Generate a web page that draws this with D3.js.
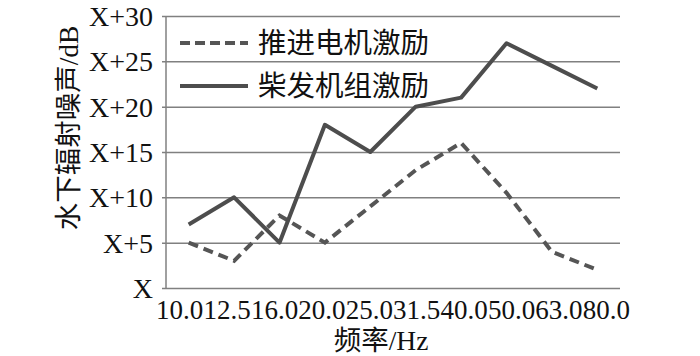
<!DOCTYPE html>
<html>
<head>
<meta charset="utf-8">
<script src="https://cdn.jsdelivr.net/npm/d3@7"></script>
<style>
  body { margin: 0; background: #fff; }
  text { font-family: "Liberation Serif", "Noto Sans CJK SC", serif; fill: #111; }
</style>
</head>
<body>
<div id="chart"></div>
<script>
var categories = ["10.0", "12.5", "16.0", "20.0", "25.0", "31.5", "40.0", "50.0", "63.0", "80.0"];
var motorValues = [5, 3, 8, 5, 9, 13, 16, 10.5, 4, 2];
var gensetValues = [7, 10, 5, 18, 15, 20, 21, 27, 24.5, 22];
var yTicks = [0, 5, 10, 15, 20, 25, 30];
var yTickLabels = ["X", "X+5", "X+10", "X+15", "X+20", "X+25", "X+30"];
var seriesNames = ["推进电机激励", "柴发机组激励"];

var margin = {top: 16, right: 80, bottom: 68, left: 166},
    width = 700 - margin.left - margin.right,
    height = 356 - margin.top - margin.bottom;

var svg = d3.select("#chart").append("svg")
    .attr("width", 700)
    .attr("height", 356)
  .append("g")
    .attr("transform", "translate(" + margin.left + "," + margin.top + ")");

var x = d3.scaleBand()
    .domain(categories)
    .range([0, width]);

// tick labels in the original are spread a bit wider than the points
var xLabel = d3.scaleBand()
    .domain(categories)
    .range([-10, width + 10]);

var y = d3.scaleLinear()
    .domain([0, 30])
    .range([height, 0]);

// gridlines + y tick labels
var yAxis = d3.axisLeft(y)
    .tickValues(yTicks)
    .tickSize(-width - 4)
    .tickFormat(function(d, i) { return yTickLabels[i]; });

var gy = svg.append("g")
    .attr("transform", "translate(-4,0)")
    .call(yAxis);
gy.select(".domain").remove();
gy.selectAll("line").attr("stroke", "#808080").attr("stroke-width", 1.5);
gy.selectAll("text")
    .attr("x", -9)
    .attr("dy", "0.34em")
    .style("font-size", "28px");

// left axis line
svg.append("line")
    .attr("x1", 0).attr("x2", 0)
    .attr("y1", 0).attr("y2", height)
    .attr("stroke", "#808080")
    .attr("stroke-width", 1.5);

// x axis
var xAxis = d3.axisBottom(xLabel).tickSize(0);
var gx = svg.append("g")
    .attr("transform", "translate(0," + height + ")")
    .call(xAxis);
gx.select(".domain").remove();
gx.selectAll("text")
    .attr("y", 12)
    .attr("dy", "0.71em")
    .style("font-size", "27px");

var line = d3.line()
    .x(function(d, i) { return x(categories[i]) + x.bandwidth() / 2; })
    .y(function(d) { return y(d); });

svg.append("path")
    .datum(motorValues)
    .attr("fill", "none")
    .attr("stroke", "#555")
    .attr("stroke-width", 4)
    .attr("stroke-dasharray", "10,6")
    .attr("d", line);

svg.append("path")
    .datum(gensetValues)
    .attr("fill", "none")
    .attr("stroke", "#4d4d4d")
    .attr("stroke-width", 4)
    .attr("stroke-linejoin", "round")
    .attr("d", line);

// legend
var legend = svg.selectAll(".legend")
    .data(seriesNames)
  .enter().append("g")
    .attr("class", "legend")
    .attr("transform", function(d, i) { return "translate(14," + (27 + i * 43) + ")"; });

legend.append("line")
    .attr("x1", 0).attr("x2", 68)
    .attr("stroke", function(d, i) { return i === 0 ? "#555" : "#4d4d4d"; })
    .attr("stroke-width", 4)
    .attr("stroke-dasharray", function(d, i) { return i === 0 ? "10,5" : null; });

legend.append("text")
    .attr("x", 78)
    .attr("dy", "0.36em")
    .style("font-size", "28.5px")
    .text(function(d) { return d; });

// axis titles
svg.append("text")
    .attr("transform", "translate(" + (68 - margin.left) + "," + (128 - margin.top) + ") rotate(-90)")
    .attr("dy", "0.35em")
    .style("text-anchor", "middle")
    .style("font-size", "27.5px")
    .text("水下辐射噪声/dB");

svg.append("text")
    .attr("x", 381 - margin.left)
    .attr("y", 340 - margin.top)
    .attr("dy", "0.35em")
    .style("text-anchor", "middle")
    .style("font-size", "27.5px")
    .text("频率/Hz");
</script>
</body>
</html>
